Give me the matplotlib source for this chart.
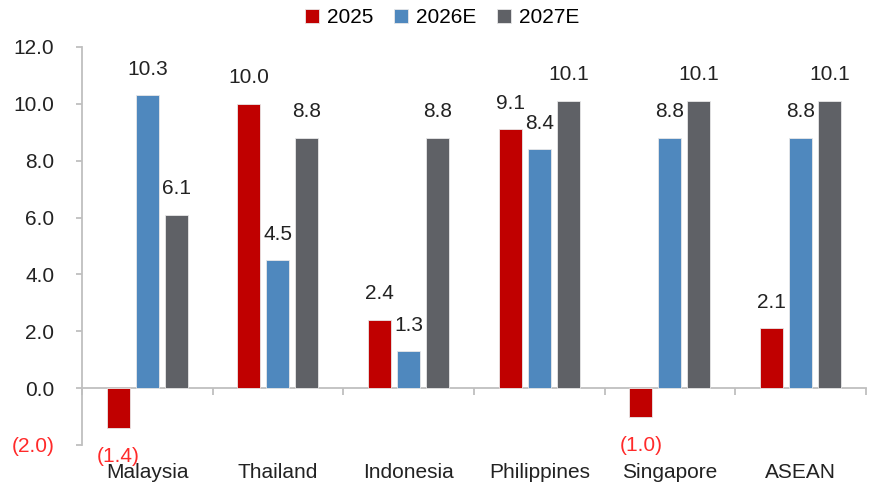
"""Bar chart: 2025 / 2026E / 2027E by ASEAN market."""

import matplotlib

matplotlib.use("Agg")
import matplotlib.pyplot as plt
from matplotlib.ticker import FixedLocator, FuncFormatter
import numpy as np

CATEGORIES = ["Malaysia", "Thailand", "Indonesia", "Philippines", "Singapore", "ASEAN"]
SERIES = ["2025", "2026E", "2027E"]
VALUES_2025 = [-1.4, 10.0, 2.4, 9.1, -1.0, 2.1]
VALUES_2026E = [10.3, 4.5, 1.3, 8.4, 8.8, 8.8]
VALUES_2027E = [6.1, 8.8, 8.8, 10.1, 10.1, 10.1]
Y_TICKS = [-2, 0, 2, 4, 6, 8, 10, 12]

COLORS = ["#C00000", "#4F88BE", "#5F6166"]
NEG_RED = "#FF2A2A"
AXIS_GRAY = "#BFBFBF"
TEXT = "#222222"
FS = 15

plt.rcParams["font.family"] = ["Liberation Sans", "DejaVu Sans"]


def fmt(v):
    return f"({abs(v):.1f})" if v < 0 else f"{v:.1f}"


def main():
    fig = plt.figure(figsize=(8.75, 4.86), dpi=100)
    ax = fig.add_axes([0.0937, 0.0844, 0.8960, 0.8189])

    x = np.arange(len(CATEGORIES))
    width = 0.176
    step = 0.222
    handles = []
    for i, (name, vals) in enumerate(zip(SERIES, [VALUES_2025, VALUES_2026E, VALUES_2027E])):
        pos = x + (i - 1) * step
        bars = ax.bar(pos, vals, width=width, color=COLORS[i], edgecolor="#E8E8E8",
                      linewidth=0.6, label=name, zorder=3)
        handles.append(bars)
        for xp, v in zip(pos, vals):
            if v >= 0:
                ax.annotate(fmt(v), (xp, v), xytext=(0, 12), textcoords="offset points",
                            ha="center", va="bottom", fontsize=FS, color=TEXT)
            else:
                ax.annotate(fmt(v), (xp, v), xytext=(0, -14), textcoords="offset points",
                            ha="center", va="top", fontsize=FS, color=NEG_RED)

    ax.set_xlim(-0.5, len(CATEGORIES) - 0.5)
    ax.set_ylim(-2, 12)

    # spines
    for s in ["top", "right"]:
        ax.spines[s].set_visible(False)
    ax.spines["bottom"].set_position(("data", 0))
    ax.spines["bottom"].set_color(AXIS_GRAY)
    ax.spines["bottom"].set_linewidth(1.3)
    ax.spines["left"].set_color(AXIS_GRAY)
    ax.spines["left"].set_linewidth(1.3)

    # y axis
    ax.yaxis.set_major_locator(FixedLocator(Y_TICKS))
    ax.yaxis.set_major_formatter(FuncFormatter(lambda v, _: fmt(v)))
    ax.tick_params(axis="y", length=4, width=1.3, color=AXIS_GRAY, pad=16,
                   labelsize=FS, labelcolor=TEXT)
    for lbl, v in zip(ax.get_yticklabels(), Y_TICKS):
        if v < 0:
            lbl.set_color(NEG_RED)

    # x axis: boundary ticks on the zero line, names along the bottom
    ax.set_xticks(np.arange(-0.5, len(CATEGORIES)))
    ax.set_xticklabels([])
    ax.tick_params(axis="x", length=5, width=1.3, color=AXIS_GRAY)
    for xi, name in zip(x, CATEGORIES):
        ax.annotate(name, (xi, 0), xycoords=("data", "axes fraction"), xytext=(0, -13),
                    textcoords="offset points", ha="center", va="top", fontsize=FS,
                    color=TEXT, annotation_clip=False)

    fig.legend(handles=handles, labels=SERIES, loc="center", bbox_to_anchor=(0.505, 0.963),
               ncol=3, frameon=False, fontsize=FS, handlelength=0.7, handleheight=0.7,
               handletextpad=0.35, columnspacing=1.0)

    fig.savefig("out.png", dpi=100, facecolor="white")
    plt.close(fig)


if __name__ == "__main__":
    main()
